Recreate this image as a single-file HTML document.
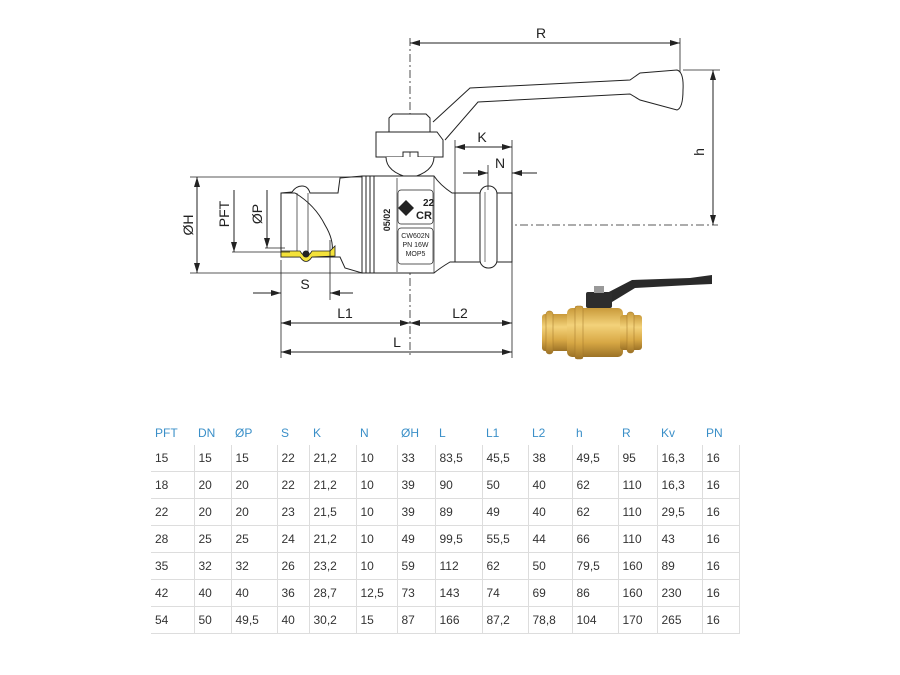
<!DOCTYPE html>
<html><head><meta charset="utf-8">
<style>
html,body{margin:0;padding:0;background:#fff;}
body{width:900px;height:675px;position:relative;overflow:hidden;font-family:"Liberation Sans",sans-serif;}
svg{position:absolute;left:0;top:0;}
table{position:absolute;left:151px;top:420px;border-collapse:collapse;font-size:12px;color:#333;table-layout:fixed;}
td{height:26px;padding:0 0 0 4px;border-left:1px solid #ddd;border-bottom:1px solid #ddd;vertical-align:middle;white-space:nowrap;}
tr td:last-child{border-right:1px solid #ddd;}
tr.h td{color:#3a8fc8;height:25px;border-left:none;border-bottom:none;border-right:none;}
</style></head><body>
<svg width="900" height="675" viewBox="0 0 900 675">
<defs>
<marker id="a" markerWidth="10" markerHeight="6" refX="10" refY="3" orient="auto-start-reverse" markerUnits="userSpaceOnUse"><path d="M0,0L10,3L0,6z" fill="#222"/></marker>
<linearGradient id="br" x1="0" y1="0" x2="0" y2="1"><stop offset="0" stop-color="#c99a3a"/><stop offset="0.35" stop-color="#f3d27a"/><stop offset="0.7" stop-color="#d8a845"/><stop offset="1" stop-color="#9c7226"/></linearGradient>
</defs>
<g stroke="#222" stroke-width="1" fill="none">
<line x1="410" y1="38" x2="410" y2="355" stroke-dasharray="8,3,2,3" stroke-width="0.8"/>
<line x1="440" y1="225" x2="718" y2="225" stroke-dasharray="8,3,2,3" stroke-width="0.8"/>
<line x1="410" y1="43" x2="680" y2="43" marker-start="url(#a)" marker-end="url(#a)"/>
<line x1="680" y1="38" x2="680" y2="75" stroke-width="0.8"/>
<line x1="683" y1="70" x2="720" y2="70" stroke-width="0.8"/>
<line x1="713" y1="70" x2="713" y2="225" marker-start="url(#a)" marker-end="url(#a)"/>
<path d="M433,122 L470,88 L630,80 L640,73 L677,70 Q684,72 683,90 Q683,108 677,110 L640,100 L630,94 L478,102 L445,140" fill="#fff"/>
<path d="M389,118 L393,114 L426,114 L430,118 L430,132 L389,132 Z" fill="#fff"/>
<path d="M376,132 L437,132 L443,140 L443,157 L418,157 L418,152 L403,152 L403,157 L376,157 Z" fill="#fff"/>
<path d="M386,157 Q386,172 410,178 Q434,172 434,157" fill="#fff"/>
<path d="M281,193 L292,192 Q296,186 302,186 Q308,186 310,193 L338,193 L340,178 L362,176 L362,273 L345,268 L340,257 L281,257 Z" fill="#fff"/>
<path d="M281,193 L295,193 Q315,205 325,225 Q334,240 332,252" />
<line x1="297" y1="193" x2="297" y2="257" stroke-width="0.7"/>
<line x1="308" y1="193" x2="308" y2="257" stroke-width="0.7"/>
<rect x="362" y="176" width="12" height="97" fill="#fff"/>
<line x1="366" y1="176" x2="366" y2="273"/><line x1="370" y1="176" x2="370" y2="273"/>
<path d="M374,176 L434,176 Q440,185 452,193 L455,193 L455,262 L450,262 Q440,268 434,273 L374,273 Z" fill="#fff"/>
<line x1="397" y1="178" x2="397" y2="272" stroke-width="0.7"/>
<line x1="434" y1="176" x2="434" y2="273" stroke-width="0.7"/>
<rect x="398" y="190" width="35" height="34" rx="3" stroke-width="0.7"/>
<rect x="398" y="228" width="35" height="36" rx="3" stroke-width="0.7"/>
<rect x="455" y="193" width="57" height="69" fill="#fff"/>
<rect x="480" y="186" width="17" height="82" rx="8" fill="#fff"/>
<line x1="485" y1="192" x2="485" y2="262" stroke-width="0.6"/>
<path d="M281,251 L300,251 Q306,261 312,251 L330,251 L335,246 L335,256 L312,257 Q306,266 300,257 L281,257 Z" fill="#f4e23a" stroke-width="0.8"/>
<circle cx="306" cy="254" r="3" fill="#222"/>
<line x1="190" y1="177" x2="362" y2="177" stroke-width="0.8"/>
<line x1="190" y1="273" x2="362" y2="273" stroke-width="0.8"/>
<line x1="197" y1="177" x2="197" y2="273" marker-start="url(#a)" marker-end="url(#a)"/>
<line x1="234" y1="190" x2="234" y2="252" marker-end="url(#a)"/>
<line x1="232" y1="252" x2="290" y2="252" stroke-width="0.8"/>
<line x1="267" y1="190" x2="267" y2="248" marker-end="url(#a)"/>
<line x1="265" y1="248" x2="285" y2="248" stroke-width="0.8"/>
<line x1="330" y1="240" x2="330" y2="300" stroke-width="0.8"/>
<line x1="253" y1="293" x2="281" y2="293" marker-end="url(#a)"/>
<line x1="353" y1="293" x2="330" y2="293" marker-end="url(#a)"/>
<line x1="281" y1="260" x2="281" y2="358" stroke-width="0.8"/>
<line x1="512" y1="262" x2="512" y2="358" stroke-width="0.8"/>
<line x1="512" y1="140" x2="512" y2="193" stroke-width="0.8"/>
<line x1="455" y1="140" x2="455" y2="193" stroke-width="0.8"/>
<line x1="488" y1="165" x2="488" y2="190" stroke-width="0.8"/>
<line x1="281" y1="323" x2="410" y2="323" marker-start="url(#a)" marker-end="url(#a)"/>
<line x1="410" y1="323" x2="512" y2="323" marker-start="url(#a)" marker-end="url(#a)"/>
<line x1="281" y1="352" x2="512" y2="352" marker-start="url(#a)" marker-end="url(#a)"/>
<line x1="455" y1="147" x2="512" y2="147" marker-start="url(#a)" marker-end="url(#a)"/>
<line x1="463" y1="173" x2="488" y2="173" marker-end="url(#a)"/>
<line x1="537" y1="173" x2="512" y2="173" marker-end="url(#a)"/>
</g>
<g font-family="Liberation Sans,sans-serif" font-size="14" fill="#222">
<text x="541" y="38" text-anchor="middle">R</text>
<text x="700" y="156" transform="rotate(-90 700 152)" text-anchor="middle">h</text>
<text x="482" y="142" text-anchor="middle">K</text>
<text x="500" y="168" text-anchor="middle">N</text>
<text x="305" y="289" text-anchor="middle">S</text>
<text x="345" y="318" text-anchor="middle">L1</text>
<text x="460" y="318" text-anchor="middle">L2</text>
<text x="397" y="347" text-anchor="middle">L</text>
<text transform="translate(193,225) rotate(-90)" text-anchor="middle">ØH</text>
<text transform="translate(229,214) rotate(-90)" text-anchor="middle">PFT</text>
<text transform="translate(262,214) rotate(-90)" text-anchor="middle">ØP</text>
<text transform="translate(390,220) rotate(-90)" text-anchor="middle" font-size="9" font-weight="bold">05/02</text>
<text x="423" y="206" font-size="10" font-weight="bold">22</text>
<text x="416" y="219" font-size="11" font-weight="bold">CR</text>
<path d="M406,200 L414,208 L406,216 L398,208 Z" fill="#222"/>
<text x="415.5" y="238" font-size="7" text-anchor="middle">CW602N</text>
<text x="415.5" y="247" font-size="7" text-anchor="middle">PN 16W</text>
<text x="415.5" y="256" font-size="7" text-anchor="middle">MOP5</text>
</g>
<g>
<path d="M605,294 L632,280 L690,278 L712,275 L712,284 L690,285 L635,288 L612,302 Z" fill="#2a2a2a"/>
<rect x="586" y="292" width="26" height="16" rx="2" fill="#2d2d2d"/>
<rect x="594" y="286" width="10" height="7" fill="#999"/>
<rect x="542" y="314" width="30" height="37" rx="3" fill="url(#br)"/>
<rect x="546" y="311" width="7" height="43" rx="3" fill="url(#br)" stroke="#a07528" stroke-width="0.5"/>
<rect x="567" y="308" width="56" height="49" rx="5" fill="url(#br)"/>
<rect x="575" y="306" width="8" height="53" rx="2" fill="url(#br)" stroke="#a07528" stroke-width="0.5"/>
<rect x="620" y="315" width="22" height="35" rx="3" fill="url(#br)"/>
<rect x="627" y="312" width="7" height="41" rx="3" fill="url(#br)" stroke="#a07528" stroke-width="0.5"/>
</g>
</svg>
<table>
<tr class="h"><td style="width:39px">PFT</td><td style="width:33px">DN</td><td style="width:42px">ØP</td><td style="width:28px">S</td><td style="width:43px">K</td><td style="width:37px">N</td><td style="width:34px">ØH</td><td style="width:43px">L</td><td style="width:42px">L1</td><td style="width:40px">L2</td><td style="width:42px">h</td><td style="width:35px">R</td><td style="width:41px">Kv</td><td style="width:33px">PN</td></tr>
<tr><td style="border-left:none">15</td><td>15</td><td>15</td><td>22</td><td>21,2</td><td>10</td><td>33</td><td>83,5</td><td>45,5</td><td>38</td><td>49,5</td><td>95</td><td>16,3</td><td>16</td></tr>
<tr><td style="border-left:none">18</td><td>20</td><td>20</td><td>22</td><td>21,2</td><td>10</td><td>39</td><td>90</td><td>50</td><td>40</td><td>62</td><td>110</td><td>16,3</td><td>16</td></tr>
<tr><td style="border-left:none">22</td><td>20</td><td>20</td><td>23</td><td>21,5</td><td>10</td><td>39</td><td>89</td><td>49</td><td>40</td><td>62</td><td>110</td><td>29,5</td><td>16</td></tr>
<tr><td style="border-left:none">28</td><td>25</td><td>25</td><td>24</td><td>21,2</td><td>10</td><td>49</td><td>99,5</td><td>55,5</td><td>44</td><td>66</td><td>110</td><td>43</td><td>16</td></tr>
<tr><td style="border-left:none">35</td><td>32</td><td>32</td><td>26</td><td>23,2</td><td>10</td><td>59</td><td>112</td><td>62</td><td>50</td><td>79,5</td><td>160</td><td>89</td><td>16</td></tr>
<tr><td style="border-left:none">42</td><td>40</td><td>40</td><td>36</td><td>28,7</td><td>12,5</td><td>73</td><td>143</td><td>74</td><td>69</td><td>86</td><td>160</td><td>230</td><td>16</td></tr>
<tr><td style="border-left:none">54</td><td>50</td><td>49,5</td><td>40</td><td>30,2</td><td>15</td><td>87</td><td>166</td><td>87,2</td><td>78,8</td><td>104</td><td>170</td><td>265</td><td>16</td></tr>
</table>
</body></html>
